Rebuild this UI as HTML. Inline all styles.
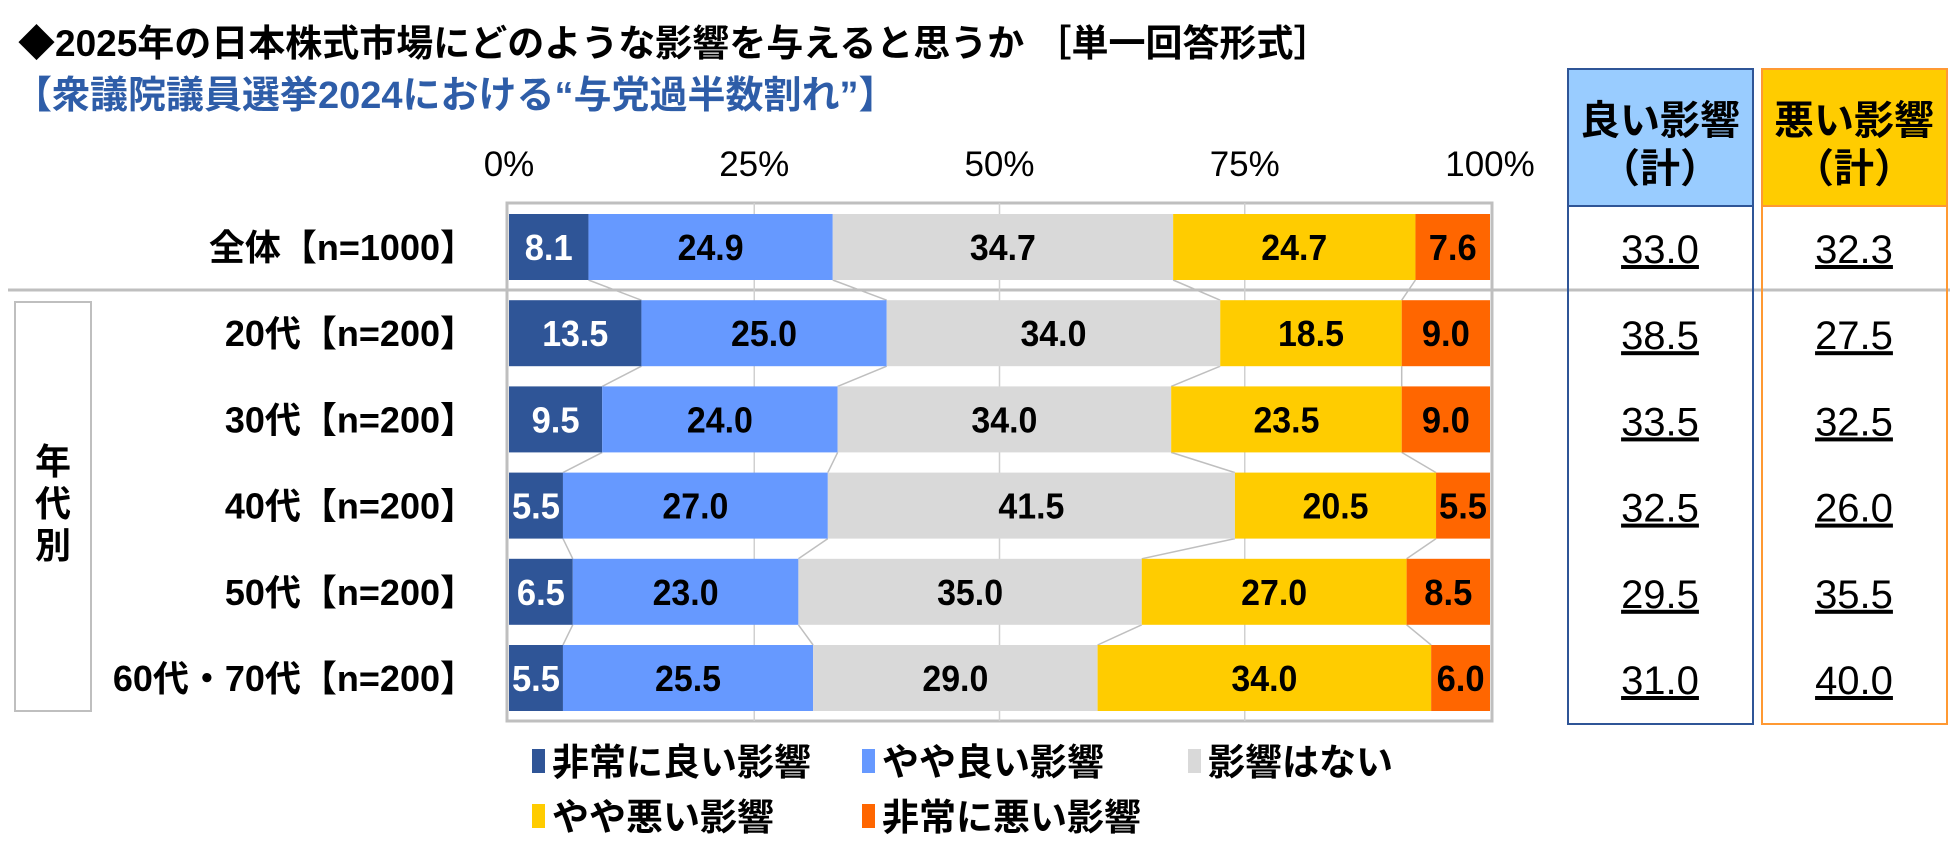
<!DOCTYPE html>
<html><head><meta charset="utf-8">
<style>
body{margin:0;background:#fff;}
svg{display:block;font-family:"Liberation Sans","Noto Sans CJK JP",sans-serif;font-weight:bold;}
</style></head>
<body>
<svg id="chart" width="1950" height="864" viewBox="0 0 1950 864" xmlns="http://www.w3.org/2000/svg">
<text x="18" y="56" font-size="37" fill="#000">◆2025年の日本株式市場にどのような影響を与えると思うか ［単一回答形式］</text>
<text x="14" y="108" font-size="38" fill="#2E5DA8">【衆議院議員選挙2024における“与党過半数割れ”】</text>
<line x1="8" y1="290" x2="1950" y2="290" stroke="#BFBFBF" stroke-width="3"/>
<rect x="15" y="302" width="76" height="409" fill="none" stroke="#BFBFBF" stroke-width="2"/>
<text x="53" y="474" font-size="36" text-anchor="middle"><tspan x="53" dy="0">年</tspan><tspan x="53" dy="42">代</tspan><tspan x="53" dy="42">別</tspan></text>
<rect x="1568" y="69" width="185" height="137" fill="#99CCFF"/>
<rect x="1568" y="69" width="185" height="655" fill="none" stroke="#2F5597" stroke-width="2"/>
<line x1="1568" y1="206" x2="1753" y2="206" stroke="#2F5597" stroke-width="2"/>
<text x="1660" y="134" font-size="40" text-anchor="middle">良い影響</text>
<text x="1660" y="182" font-size="40" text-anchor="middle">（計）</text>
<rect x="1762" y="69" width="185" height="137" fill="#FFCC00"/>
<rect x="1762" y="69" width="185" height="655" fill="none" stroke="#FF9933" stroke-width="2"/>
<line x1="1762" y1="206" x2="1947" y2="206" stroke="#FF9933" stroke-width="2"/>
<text x="1854" y="134" font-size="40" text-anchor="middle">悪い影響</text>
<text x="1854" y="182" font-size="40" text-anchor="middle">（計）</text>
<g id="plot"></g>
<g id="legend"></g>
</svg>
<script>
const categories=["全体【n=1000】","20代【n=200】","30代【n=200】","40代【n=200】","50代【n=200】","60代・70代【n=200】"];
const seriesNames=["非常に良い影響","やや良い影響","影響はない","やや悪い影響","非常に悪い影響"];
const verygood=[8.1,13.5,9.5,5.5,6.5,5.5];
const good=[24.9,25.0,24.0,27.0,23.0,25.5];
const none=[34.7,34.0,34.0,41.5,35.0,29.0];
const bad=[24.7,18.5,23.5,20.5,27.0,34.0];
const verybad=[7.6,9.0,9.0,5.5,8.5,6.0];
const goodTotal=[33.0,38.5,33.5,32.5,29.5,31.0];
const badTotal=[32.3,27.5,32.5,26.0,35.5,40.0];
const tickLabels=["0%","25%","50%","75%","100%"];
const tickValues=[0,25,50,75,100];

const NS="http://www.w3.org/2000/svg";
const colors=["#2F5597","#6699FF","#D9D9D9","#FFCC00","#FF6600"];
const textColors=["#fff","#000","#000","#000","#000"];
const X0=509,X1=1490,barH=66;
const xs=v=>X0+(X1-X0)*v/100;
const yc=i=>247+i*86.2;
const plot=document.getElementById('plot');
const leg=document.getElementById('legend');
function mk(tag,attrs,parent){const e=document.createElementNS(NS,tag);for(const k in attrs)e.setAttribute(k,attrs[k]);parent.appendChild(e);return e;}
const series=[verygood,good,none,bad,verybad];
const fr=mk('rect',{x:X0-2,y:203,width:X1-X0+4,height:518,fill:"none",stroke:"#BFBFBF","stroke-width":3},plot);


tickValues.forEach((v,k)=>{
  if(v>0&&v<100){const g=mk('line',{x1:xs(v),y1:203,x2:xs(v),y2:721,stroke:"#D0D0D0","stroke-width":1.5},plot);
  
  }
  const t=mk('text',{x:xs(v),y:176,"font-size":35,"text-anchor":"middle","font-weight":"normal"},plot);
  t.textContent=tickLabels[k];
  
  
});
for(let i=0;i<categories.length-1;i++){
  let c1=0,c2=0;
  for(let s=0;s<4;s++){c1+=series[s][i];c2+=series[s][i+1];
    const l=mk('line',{x1:xs(c1),y1:yc(i)+barH/2,x2:xs(c2),y2:yc(i+1)-barH/2,stroke:"#BFBFBF","stroke-width":1.5},plot);
    
    }
}
categories.forEach((c,i)=>{
  let cum=0;
  series.forEach((arr,s)=>{
    const v=arr[i];
    const r=mk('rect',{x:xs(cum),y:yc(i)-barH/2,width:xs(cum+v)-xs(cum),height:barH,fill:colors[s]},plot);
    
    
    const t=mk('text',{x:(xs(cum)+xs(cum+v))/2,y:yc(i)+13,"font-size":36,"text-anchor":"middle",fill:textColors[s],"textLength":v<10?48:66,"lengthAdjust":"spacingAndGlyphs"},plot);
    t.textContent=v.toFixed(1);
    
    
    cum+=v;
  });
  const lb=mk('text',{x:476,y:yc(i)+13,"font-size":36,"text-anchor":"end"},plot);
  lb.textContent=c;
  
  
  const g=mk('text',{x:1660,y:yc(i)+16,"font-size":40,"text-anchor":"middle","font-weight":"normal","text-decoration":"underline"},plot);
  g.textContent=goodTotal[i].toFixed(1);
  
  
  const b=mk('text',{x:1854,y:yc(i)+16,"font-size":40,"text-anchor":"middle","font-weight":"normal","text-decoration":"underline"},plot);
  b.textContent=badTotal[i].toFixed(1);
  
  
});
const legPos=[[532,775],[862,775],[1188,775],[532,830],[862,830]];
seriesNames.forEach((n,s)=>{
  const [lx,ly]=legPos[s];
  const sw=mk('rect',{x:lx,y:ly-26,width:13,height:24,fill:colors[s]},leg);
  
  
  const t=mk('text',{x:lx+20,y:ly,"font-size":37},leg);
  t.textContent=n;
  
  
});
</script>
</body></html>
